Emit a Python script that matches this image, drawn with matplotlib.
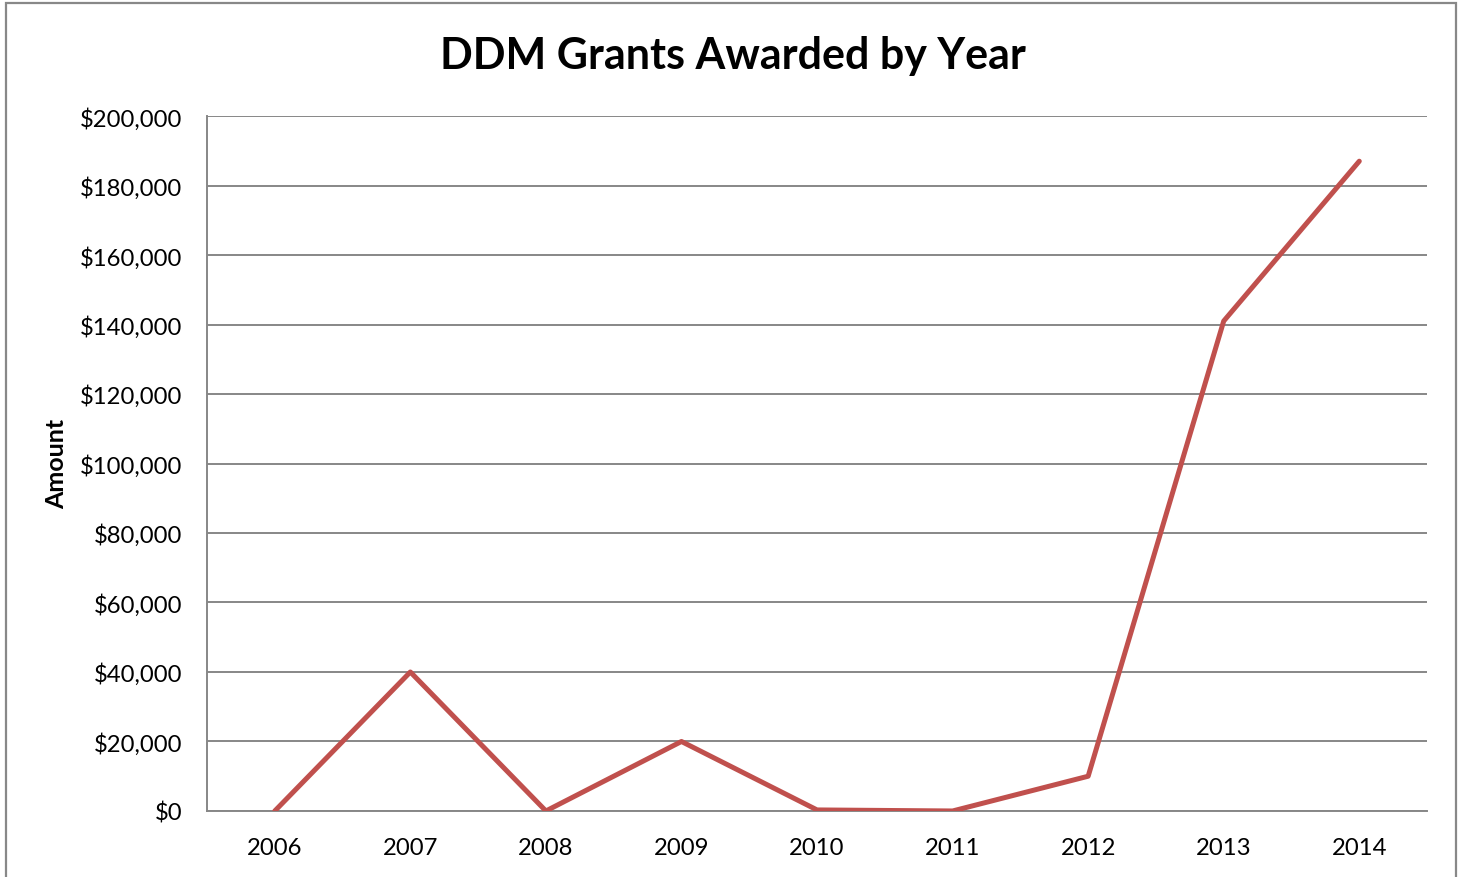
import matplotlib.pyplot as plt
import matplotlib.ticker as mticker
from matplotlib.patches import Rectangle

plt.rcParams["font.family"] = ["Lato", "DejaVu Sans"]

years = ["2006", "2007", "2008", "2009", "2010", "2011", "2012", "2013", "2014"]
amounts = [0, 40000, 0, 20000, 300, 0, 10000, 141000, 187000]

fig = plt.figure(figsize=(14.65, 8.78), dpi=100)
ax = fig.add_axes([0.1413, 0.0752, 0.8328, 0.7915])

x = range(1, len(years) + 1)
ax.plot(x, amounts, color="#C0504D", linewidth=3.6, solid_capstyle="round", zorder=3)

ax.set_xlim(0.5, len(years) + 0.5)
ax.set_ylim(0, 200000)
ax.set_xticks(list(x))
ax.set_xticklabels(years)
ax.set_yticks(range(0, 200001, 20000))
ax.yaxis.set_major_formatter(mticker.FuncFormatter(lambda v, p: "${:,.0f}".format(v)))
ax.tick_params(axis="both", length=0, labelsize=17.2)
ax.tick_params(axis="x", pad=19)
ax.tick_params(axis="y", pad=18)

ax.grid(axis="y", color="#878787", linewidth=1.4)
ax.set_axisbelow(True)
for s in ["top", "right"]:
    ax.spines[s].set_visible(False)
for s in ["left", "bottom"]:
    ax.spines[s].set_color("#878787")
    ax.spines[s].set_linewidth(1.4)

fig.text(57 / 1465, 1 - 464 / 878, "Amount", rotation=90, ha="center", va="center",
         fontsize=18, fontweight="bold")
fig.text(0.5, 1 - 56 / 878, "DDM Grants Awarded by Year", ha="center", va="center",
         fontsize=31, fontweight="bold")

fig.patches.append(Rectangle((6 / 1465, -0.01), 1450 / 1465, 1 - 4 / 878 + 0.01,
                             transform=fig.transFigure, fill=False,
                             edgecolor="#888888", linewidth=1.6))

fig.savefig("out.png", dpi=100)
